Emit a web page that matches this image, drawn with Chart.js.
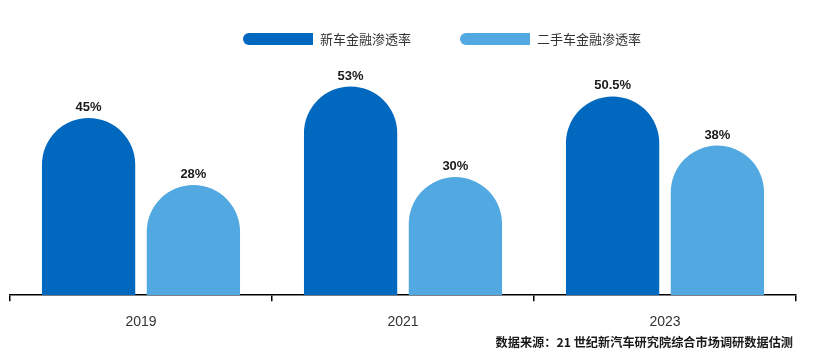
<!DOCTYPE html>
<html>
<head>
<meta charset="utf-8">
<script src="https://cdn.jsdelivr.net/npm/chart.js@4/dist/chart.umd.min.js"></script>
<style>
html,body{margin:0;padding:0;background:#fff;}
#wrap{width:813px;height:359px;position:relative;}
</style>
</head>
<body>
<div id="wrap"><canvas id="c" width="813" height="359"></canvas></div>
<script>
const categories = ['2019', '2021', '2023'];
const newCarRate = [45, 53, 50.5];
const usedCarRate = [28, 30, 38];
const valueLabelsNew = ['45%', '53%', '50.5%'];
const valueLabelsUsed = ['28%', '30%', '38%'];
const seriesNames = ['新车金融渗透率', '二手车金融渗透率'];
const sourceText = '数据来源：21 世纪新汽车研究院综合市场调研数据估测';

const darkBlue = '#0068BF';
const lightBlue = '#52A8E1';
const cjkFont = '"Noto Sans CJK SC", "Noto Sans", sans-serif';
const latinFont = '"Liberation Sans", Arial, sans-serif';

const valueLabelPlugin = {
  id: 'valueLabels',
  afterDatasetsDraw(chart) {
    const ctx = chart.ctx;
    ctx.save();
    ctx.font = 'bold 13px ' + latinFont;
    ctx.fillStyle = '#1a1a1a';
    ctx.textAlign = 'center';
    ctx.textBaseline = 'alphabetic';
    const labelSets = [valueLabelsNew, valueLabelsUsed];
    chart.data.datasets.forEach((ds, di) => {
      const meta = chart.getDatasetMeta(di);
      meta.data.forEach((bar, i) => {
        ctx.fillText(labelSets[di][i], bar.x, bar.y - 7);
      });
    });
    ctx.restore();
  }
};

const legendPlugin = {
  id: 'customLegend',
  afterDraw(chart) {
    const ctx = chart.ctx;
    ctx.save();
    const items = [
      {x: 243, color: darkBlue, text: seriesNames[0]},
      {x: 460, color: lightBlue, text: seriesNames[1]}
    ];
    const y = 33, h = 12, w = 70, r = 6;
    items.forEach(it => {
      ctx.fillStyle = it.color;
      ctx.beginPath();
      ctx.moveTo(it.x + r, y);
      ctx.lineTo(it.x + w, y);
      ctx.lineTo(it.x + w, y + h);
      ctx.lineTo(it.x + r, y + h);
      ctx.arc(it.x + r, y + r, r, Math.PI / 2, Math.PI * 1.5);
      ctx.closePath();
      ctx.fill();
      ctx.fillStyle = '#333';
      ctx.font = '13px ' + cjkFont;
      ctx.textAlign = 'left';
      ctx.textBaseline = 'middle';
      ctx.fillText(it.text, it.x + w + 7, y + h / 2);
    });
    ctx.font = 'bold 12.2px ' + cjkFont;
    ctx.fillStyle = '#1a1a1a';
    ctx.textAlign = 'right';
    ctx.textBaseline = 'middle';
    ctx.fillText(sourceText, 793, 342);
    ctx.restore();
  }
};

new Chart(document.getElementById('c'), {
  type: 'bar',
  data: {
    labels: categories,
    datasets: [
      {label: seriesNames[0], data: newCarRate, backgroundColor: darkBlue,
       borderRadius: {topLeft: 60, topRight: 60, bottomLeft: 0, bottomRight: 0}, borderSkipped: 'bottom',
       categoryPercentage: 0.8, barPercentage: 0.89},
      {label: seriesNames[1], data: usedCarRate, backgroundColor: lightBlue,
       borderRadius: {topLeft: 60, topRight: 60, bottomLeft: 0, bottomRight: 0}, borderSkipped: 'bottom',
       categoryPercentage: 0.8, barPercentage: 0.89}
    ]
  },
  options: {
    responsive: false,
    animation: false,
    devicePixelRatio: 1,
    layout: {padding: {left: 10, right: 17, top: 59, bottom: 15}},
    plugins: {legend: {display: false}, tooltip: {enabled: false}},
    scales: {
      x: {
        grid: {display: true, offset: true, drawOnChartArea: false, drawTicks: true, tickLength: 6, color: '#000', lineWidth: 1.5},
        border: {display: true, color: '#000', width: 1.5},
        ticks: {color: '#333', font: {size: 14, family: latinFont}, padding: 13}
      },
      y: {
        display: false,
        min: 0, max: 60
      }
    }
  },
  plugins: [valueLabelPlugin, legendPlugin]
});
</script>
</body>
</html>
